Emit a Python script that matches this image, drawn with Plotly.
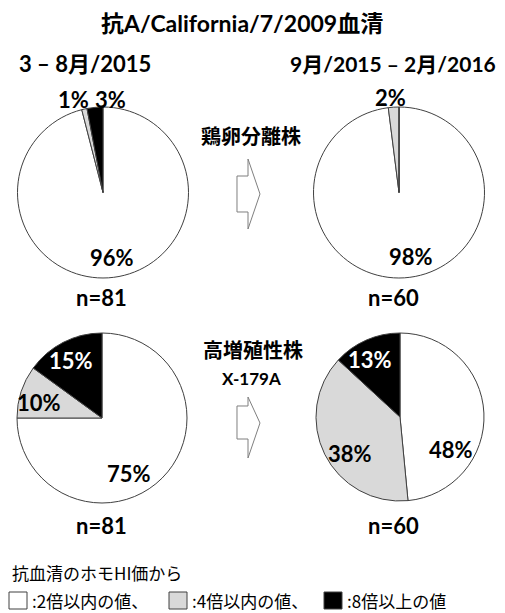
import plotly.graph_objects as go

# page body has an 8px margin; figure is laid out in reference-pixel terms
OFF = 8
W, H = 505 - OFF, 613 - OFF

categories = [":2倍以内の値、", ":4倍以内の値、", ":8倍以上の値"]
colors = ["#ffffff", "#d9d9d9", "#000000"]
text_colors = ["#000000", "#000000", "#ffffff"]
egg_2015 = [96, 1, 3]
egg_2016 = [98, 2, 0]
x179a_2015 = [75, 10, 15]
x179a_2016 = [48, 38, 13]
n_2015 = 81
n_2016 = 60

title_text = "抗A/California/7/2009血清"
period_left = "3 – 8月/2015"
period_right = "9月/2015 – 2月/2016"
group_egg = "鶏卵分離株"
group_hg = "高増殖性株"
group_hg_sub = "X-179A"
legend_title = "抗血清のホモHI価から"

FONT = "Lato, 'Noto Sans CJK JP', sans-serif"
CJK = "'Noto Sans CJK JP', sans-serif"


def fx(x):
    return (x - OFF) / W


def fy(y):
    return 1 - (y - OFF) / H


def dom(x0, x1, y0, y1):
    return dict(x=[fx(x0), fx(x1)], y=[fy(y1), fy(y0)])


def pie(values, domain, name):
    return go.Pie(
        values=values,
        labels=categories,
        name=name,
        textinfo="none",
        marker=dict(colors=colors, line=dict(color="#404040", width=1)),
        sort=False,
        direction="clockwise",
        rotation=0,
        domain=domain,
        showlegend=False,
        hoverinfo="label+percent",
    )


fig = go.Figure()
fig.add_trace(pie(egg_2015, dom(17, 189, 107, 278), "egg 2015"))
fig.add_trace(pie(egg_2016, dom(313, 485, 107, 278), "egg 2016"))
fig.add_trace(pie(x179a_2015, dom(17, 187, 333, 503), "X-179A 2015"))
fig.add_trace(pie(x179a_2016, dom(315, 485, 333, 501), "X-179A 2016"))


def ann(text, x, y, size=18, bold=True, xanchor="center", color="#000000", family=FONT):
    return dict(text=text, x=fx(x), y=fy(y), xref="paper", yref="paper",
                showarrow=False, xanchor=xanchor, yanchor="middle",
                font=dict(family=family, size=size, color=color,
                          weight="bold" if bold else "normal"))


def pct(values, idx, x, y, outside=False):
    color = "#000000" if outside else text_colors[idx]
    return ann(f"{values[idx]}%", x, y, size=22, color=color)


annotations = [
    ann(title_text, 242, 23, size=23),
    ann(period_left, 85, 64, size=22),
    ann(period_right, 393, 64, size=21),
    ann(group_egg, 251, 136, size=20),
    ann(group_hg, 253, 350, size=20),
    ann(group_hg_sub, 251, 378, size=17),
    ann(f"n={n_2015}", 101, 297, size=22),
    ann(f"n={n_2016}", 393, 297, size=22),
    ann(f"n={n_2015}", 101, 525, size=22),
    ann(f"n={n_2016}", 393, 525, size=22),
    # percentage labels
    pct(egg_2015, 1, 73, 99, outside=True),
    pct(egg_2015, 2, 110, 99, outside=True),
    pct(egg_2015, 0, 112, 258),
    pct(egg_2016, 1, 390, 97, outside=True),
    pct(egg_2016, 0, 411, 256),
    pct(x179a_2015, 2, 71, 360),
    pct(x179a_2015, 1, 39, 402),
    pct(x179a_2015, 0, 129, 473),
    pct(x179a_2016, 2, 370, 359),
    pct(x179a_2016, 1, 350, 453),
    pct(x179a_2016, 0, 451, 449),
    # legend
    ann(legend_title, 10, 572, size=17, bold=False, xanchor="left", family=CJK),
    ann(categories[0], 30, 600, size=17, bold=False, xanchor="left", family=CJK),
    ann(categories[1], 190, 600, size=17, bold=False, xanchor="left", family=CJK),
    ann(categories[2], 345, 600, size=17, bold=False, xanchor="left", family=CJK),
]


def arrow_path(y_top, y_body_top, y_tip, y_body_bot, y_bot):
    pts = [(237, y_body_top), (248, y_body_top), (248, y_top), (260, y_tip),
           (248, y_bot), (248, y_body_bot), (237, y_body_bot)]
    d = "M " + " L ".join(f"{fx(x):.5f},{fy(y):.5f}" for x, y in pts) + " Z"
    return dict(type="path", path=d, xref="paper", yref="paper",
                line=dict(color="#7f7f7f", width=1), fillcolor="#ffffff")


def swatch(x0, color):
    return dict(type="rect", xref="paper", yref="paper",
                x0=fx(x0), x1=fx(x0 + 18), y0=fy(609), y1=fy(592),
                fillcolor=color, line=dict(color="#404040", width=1))


shapes = [
    arrow_path(159, 176, 194, 212, 229),
    arrow_path(397, 406, 423, 439, 458),
    swatch(9, colors[0]),
    swatch(169, colors[1]),
    swatch(324, colors[2]),
]

fig.update_layout(
    width=W, height=H,
    margin=dict(l=0, r=0, t=0, b=0),
    paper_bgcolor="#ffffff",
    plot_bgcolor="#ffffff",
    annotations=annotations,
    shapes=shapes,
    showlegend=False,
)

fig.write_html("out.html")
